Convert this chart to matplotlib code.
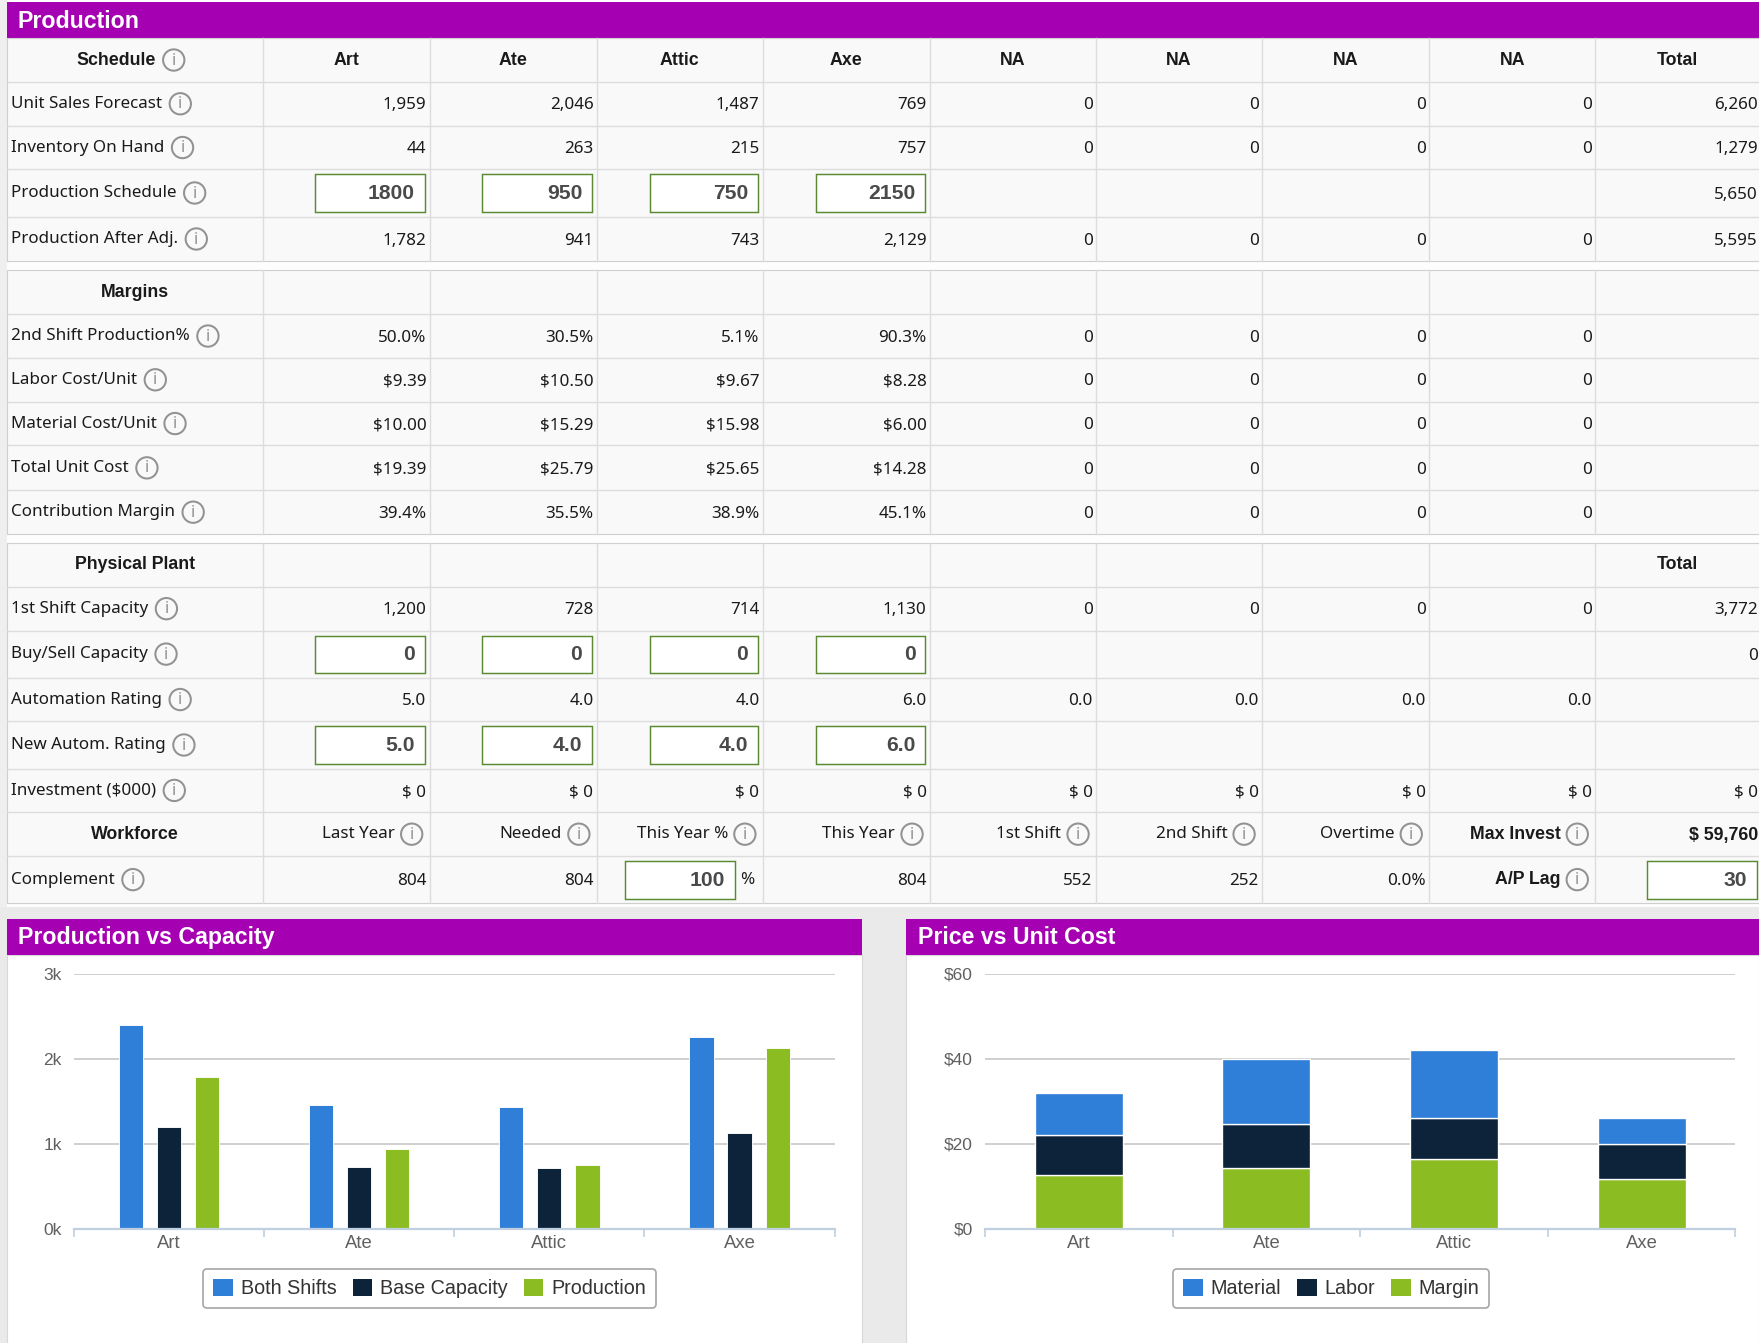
import matplotlib
matplotlib.use("Agg")
import matplotlib.pyplot as plt
from matplotlib.patches import Rectangle, Circle, Patch

# layout grid in "screen units" (the reference is 1759x1343 px)
W, H = 1568, 1197
SC = 1759 / W


def pt(px):
    """screen units -> points (figure at dpi 100)"""
    return px * SC * 0.72


PURPLE = "#A600B3"
BLUE, NAVY, GREEN = "#2F7ED8", "#0D233A", "#8BBC21"
CELL, LINE = "#F9F9F9", "#DCDCDC"
TXT = "#1A1A1A"
TABLE_FONT = ["Noto Sans", "DejaVu Sans"]
BOLD_FONT = ["Liberation Sans", "DejaVu Sans"]
CHART_FONT = ["Liberation Sans", "DejaVu Sans"]

# ---------------- data ----------------
PRODUCTS = ["Art", "Ate", "Attic", "Axe"]
HEADERS = PRODUCTS + ["NA", "NA", "NA", "NA", "Total"]

sales_forecast = [1959, 2046, 1487, 769, 0, 0, 0, 0]
inventory = [44, 263, 215, 757, 0, 0, 0, 0]
prod_schedule = [1800, 950, 750, 2150]
prod_after_adj = [1782, 941, 743, 2129, 0, 0, 0, 0]
schedule_totals = [6260, 1279, 5650, 5595]

second_shift_pct = [50.0, 30.5, 5.1, 90.3, 0, 0, 0, 0]
labor_cost = [9.39, 10.50, 9.67, 8.28, 0, 0, 0, 0]
material_cost = [10.00, 15.29, 15.98, 6.00, 0, 0, 0, 0]
total_unit_cost = [19.39, 25.79, 25.65, 14.28, 0, 0, 0, 0]
contrib_margin = [39.4, 35.5, 38.9, 45.1, 0, 0, 0, 0]

first_shift_cap = [1200, 728, 714, 1130, 0, 0, 0, 0]
buy_sell_cap = [0, 0, 0, 0]
autom_rating = [5.0, 4.0, 4.0, 6.0, 0.0, 0.0, 0.0, 0.0]
new_autom_rating = [5.0, 4.0, 4.0, 6.0]
investment = [0, 0, 0, 0, 0, 0, 0, 0]
plant_totals = [3772, 0, 0]

WF_HEADERS = ["Last Year", "Needed", "This Year %", "This Year",
              "1st Shift", "2nd Shift", "Overtime"]
wf_last_year, wf_needed, wf_this_year_pct, wf_this_year = 804, 804, 100, 804
wf_first_shift, wf_second_shift, wf_overtime = 552, 252, 0.0
max_invest, ap_lag = 59760, 30

both_shifts = [2400, 1456, 1428, 2260]
base_capacity = first_shift_cap[:4]
production = prod_after_adj[:4]
margin_unit = [12.61, 14.19, 16.33, 11.73]

# ---------------- canvas ----------------
fig = plt.figure(figsize=(17.59, 13.43), dpi=100)
fig.patch.set_facecolor("#EFEFEF")
bg = fig.add_axes([0, 0, 1, 1])
bg.set_xlim(0, W)
bg.set_ylim(H, 0)
bg.axis("off")
R = fig.canvas.get_renderer()

X = [6, 234, 383, 532, 680, 829, 977, 1125, 1274, 1422, W]


def rect(x0, y0, x1, y1, **kw):
    bg.add_patch(Rectangle((x0, y0), x1 - x0, y1 - y0, **kw))


def width_of(t):
    return t.get_window_extent(renderer=R).width / SC


def txt(x, y, s, bold=False, size=15.2, **kw):
    return bg.text(x, y, s, va="center", color=kw.pop("color", TXT),
                   fontsize=pt(15.8 if bold else size),
                   family=BOLD_FONT if bold else TABLE_FONT,
                   fontweight="bold" if bold else "normal", **kw)


def info(cx, cy):
    bg.add_patch(Circle((cx, cy), 9.5, fill=False, ec="#929292", lw=pt(1.8), zorder=6))
    bg.text(cx, cy + 0.5, "i", ha="center", va="center", fontsize=pt(14.5), color="#929292",
            family=TABLE_FONT, zorder=6)


def label(y0, y1, s):
    cy = (y0 + y1) / 2
    t = txt(10, cy, s, ha="left")
    info(10 + width_of(t) + 16, cy)


def head_center(ci, y0, y1, s, icon=False):
    cy = (y0 + y1) / 2
    cx = (X[ci] + X[ci + 1]) / 2
    t = txt(cx, cy, s, bold=True, ha="center")
    if icon:
        w = width_of(t)
        tot = w + 25
        t.set_x(cx - tot / 2 + w / 2 - 4)
        info(cx - tot / 2 + w + 12, cy)


def value(ci, y0, y1, s, bold=False, pad=3):
    txt(X[ci + 1] - pad, (y0 + y1) / 2 + 1.5, s, bold=bold, ha="right")


def head_icon_right(ci, y0, y1, s, bold=False):
    cy = (y0 + y1) / 2
    ix = X[ci + 1] - 16
    info(ix, cy)
    txt(ix - 15, cy, s, bold=bold, ha="right")


def input_box(x0, x1, y0, y1, s):
    rect(x0, y0 + 4.5, x1, y1 - 4, fc="white", ec="#5A8A32", lw=pt(1.3), zorder=4)
    bg.text(x1 - 9, (y0 + y1) / 2 + 0.5, s, ha="right", va="center", fontsize=pt(18.8),
            color="#4A4A4A", family=BOLD_FONT, fontweight="bold", zorder=5)


def section(y_lines):
    top, bot = y_lines[0], y_lines[-1]
    rect(X[0], top, W + 2, bot, fc=CELL, ec="#CFCFCF", lw=pt(1))
    for y in y_lines[1:-1]:
        bg.plot([X[0], W], [y, y], color=LINE, lw=pt(1.2))
    for x in X[1:-1]:
        bg.plot([x, x], [top, bot], color=LINE, lw=pt(1.2))


def fint(v):
    return f"{v:,}"


# page + title bar
rect(X[0], 0, W, 810, fc="#FDFDFD", ec="none")
rect(X[0], 2, W, 34, fc=PURPLE, ec="none")
bg.text(16, 19, "Production", ha="left", va="center", color="white", fontsize=pt(20.6),
        fontweight="bold", family=BOLD_FONT)

# ---- schedule section ----
S1 = [34, 73, 112, 151, 193, 233]
section(S1)
head_center(0, S1[0], S1[1], "Schedule", icon=True)
for j, h in enumerate(HEADERS):
    head_center(j + 1, S1[0], S1[1], h)
sched_rows = [("Unit Sales Forecast", sales_forecast), ("Inventory On Hand", inventory),
              ("Production Schedule", None), ("Production After Adj.", prod_after_adj)]
for i, (name, vals) in enumerate(sched_rows):
    y0, y1 = S1[i + 1], S1[i + 2]
    label(y0, y1, name)
    if vals is None:
        for j, v in enumerate(prod_schedule):
            input_box(X[j + 1] + 47, X[j + 2] - 4, y0, y1, str(v))
    else:
        for j, v in enumerate(vals):
            value(j + 1, y0, y1, fint(v))
    value(9, y0, y1, fint(schedule_totals[i]), pad=1)

# ---- margins section ----
S2 = [241, 280, 319, 358, 397, 437, 476]
section(S2)
head_center(0, S2[0], S2[1], "Margins")
marg_rows = [("2nd Shift Production%", second_shift_pct, "{:.1f}%"),
             ("Labor Cost/Unit", labor_cost, "${:.2f}"),
             ("Material Cost/Unit", material_cost, "${:.2f}"),
             ("Total Unit Cost", total_unit_cost, "${:.2f}"),
             ("Contribution Margin", contrib_margin, "{:.1f}%")]
for i, (name, vals, fmt) in enumerate(marg_rows):
    y0, y1 = S2[i + 1], S2[i + 2]
    label(y0, y1, name)
    for j, v in enumerate(vals):
        value(j + 1, y0, y1, fmt.format(v) if j < 4 else "0")

# ---- physical plant section ----
S3 = [484, 523, 562, 604, 643, 685, 724, 763, 805]
section(S3)
head_center(0, S3[0], S3[1], "Physical Plant")
head_center(9, S3[0], S3[1], "Total")

y0, y1 = S3[1], S3[2]
label(y0, y1, "1st Shift Capacity")
for j, v in enumerate(first_shift_cap):
    value(j + 1, y0, y1, fint(v))
value(9, y0, y1, fint(plant_totals[0]), pad=1)

y0, y1 = S3[2], S3[3]
label(y0, y1, "Buy/Sell Capacity")
for j, v in enumerate(buy_sell_cap):
    input_box(X[j + 1] + 47, X[j + 2] - 4, y0, y1, str(v))
value(9, y0, y1, fint(plant_totals[1]), pad=1)

y0, y1 = S3[3], S3[4]
label(y0, y1, "Automation Rating")
for j, v in enumerate(autom_rating):
    value(j + 1, y0, y1, f"{v:.1f}")

y0, y1 = S3[4], S3[5]
label(y0, y1, "New Autom. Rating")
for j, v in enumerate(new_autom_rating):
    input_box(X[j + 1] + 47, X[j + 2] - 4, y0, y1, f"{v:.1f}")

y0, y1 = S3[5], S3[6]
label(y0, y1, "Investment ($000)")
for j, v in enumerate(investment):
    value(j + 1, y0, y1, f"$ {v}")
value(9, y0, y1, f"$ {plant_totals[2]}", pad=1)

y0, y1 = S3[6], S3[7]
head_center(0, y0, y1, "Workforce")
for j, h in enumerate(WF_HEADERS):
    head_icon_right(j + 1, y0, y1, h)
head_icon_right(8, y0, y1, "Max Invest", bold=True)
value(9, y0, y1, f"$ {max_invest:,}", bold=True, pad=1)

y0, y1 = S3[7], S3[8]
label(y0, y1, "Complement")
value(1, y0, y1, str(wf_last_year))
value(2, y0, y1, str(wf_needed))
input_box(X[3] + 25, X[4] - 25, y0, y1, str(wf_this_year_pct))
txt(X[4] - 20, (y0 + y1) / 2, "%", ha="left")
value(4, y0, y1, str(wf_this_year))
value(5, y0, y1, str(wf_first_shift))
value(6, y0, y1, str(wf_second_shift))
value(7, y0, y1, f"{wf_overtime:.1f}%")
head_icon_right(8, y0, y1, "A/P Lag", bold=True)
input_box(X[9] + 46, W - 2, y0, y1, str(ap_lag))

# ---------------- chart panels ----------------
rect(0, 808, W, H, fc="#EAEAEA", ec="none")
for (px0, px1, title) in [(6, 768, "Production vs Capacity"), (808, W, "Price vs Unit Cost")]:
    rect(px0, 851, px1, H + 2, fc="white", ec="#D8D8D8", lw=pt(1))
    rect(px0, 819, px1, 851, fc=PURPLE, ec="none")
    bg.text(px0 + 10, 836, title, ha="left", va="center", color="white", fontsize=pt(20.6),
            fontweight="bold", family=BOLD_FONT)


def chart_axes(x0, y0, x1, y1):
    ax = fig.add_axes([x0 / W, 1 - y1 / H, (x1 - x0) / W, (y1 - y0) / H])
    ax.set_facecolor("none")
    ax.set_xlim(-0.5, 3.5)
    for s in ("top", "right", "left"):
        ax.spines[s].set_visible(False)
    ax.spines["bottom"].set_color("#C0D0E0")
    ax.spines["bottom"].set_linewidth(pt(2))
    ax.set_axisbelow(True)
    ax.grid(axis="y", color="#C8C8C8", lw=pt(1.5))
    ax.set_xticks([-0.5, 0.5, 1.5, 2.5, 3.5])
    ax.set_xticklabels([])
    ax.set_xticks(range(4), minor=True)
    ax.set_xticklabels(PRODUCTS, minor=True, family=CHART_FONT, fontsize=pt(16.5), color="#606060")
    ax.tick_params(axis="x", which="major", length=pt(7), width=pt(1.5), color="#C0D0E0")
    ax.tick_params(axis="x", which="minor", length=0, pad=pt(5.5))
    ax.tick_params(axis="y", length=0, pad=pt(11), labelcolor="#606060")
    return ax


ax1 = chart_axes(66, 868, 744, 1095)
xs = range(len(PRODUCTS))
ax1.bar([x - 0.2 for x in xs], both_shifts, width=0.127, color=BLUE, edgecolor="white", lw=pt(0.8))
ax1.bar(list(xs), base_capacity, width=0.127, color=NAVY, edgecolor="white", lw=pt(0.8))
ax1.bar([x + 0.2 for x in xs], production, width=0.127, color=GREEN, edgecolor="white", lw=pt(0.8))
ax1.set_ylim(0, 3000)
ax1.set_yticks([0, 1000, 2000, 3000])
ax1.set_yticklabels(["0k", "1k", "2k", "3k"], family=CHART_FONT, fontsize=pt(15.5))

ax2 = chart_axes(878, 868, 1547, 1095)
ax2.bar(xs, margin_unit, width=0.47, color=GREEN, edgecolor="white", lw=pt(1.2))
ax2.bar(xs, labor_cost[:4], width=0.47, bottom=margin_unit, color=NAVY, edgecolor="white", lw=pt(1.2))
bottom2 = [m + l for m, l in zip(margin_unit, labor_cost[:4])]
ax2.bar(xs, material_cost[:4], width=0.47, bottom=bottom2, color=BLUE, edgecolor="white", lw=pt(1.2))
ax2.set_ylim(0, 60)
ax2.set_yticks([0, 20, 40, 60])
ax2.set_yticklabels(["$0", "$20", "$40", "$60"], family=CHART_FONT, fontsize=pt(15.5))


def legend_at(cx, cy, names, colors):
    handles = [Patch(facecolor=c, edgecolor="none") for c in colors]
    lg = fig.legend(handles, names, loc="center", bbox_to_anchor=(cx / W, 1 - cy / H), ncol=3,
                    frameon=True, fancybox=True, edgecolor="#909090", facecolor="white",
                    handlelength=1.0, handleheight=1.0, handletextpad=0.4, columnspacing=0.8,
                    borderpad=0.5, prop={"family": CHART_FONT, "size": pt(17.6)})
    lg.get_frame().set_linewidth(pt(1.5))
    for t in lg.get_texts():
        t.set_color("#333333")
    return lg


legend_at(383, 1148.5, ["Both Shifts", "Base Capacity", "Production"], [BLUE, NAVY, GREEN])
legend_at(1186.5, 1148.5, ["Material", "Labor", "Margin"], [BLUE, NAVY, GREEN])

fig.savefig("out.png", dpi=100, facecolor=fig.get_facecolor())
